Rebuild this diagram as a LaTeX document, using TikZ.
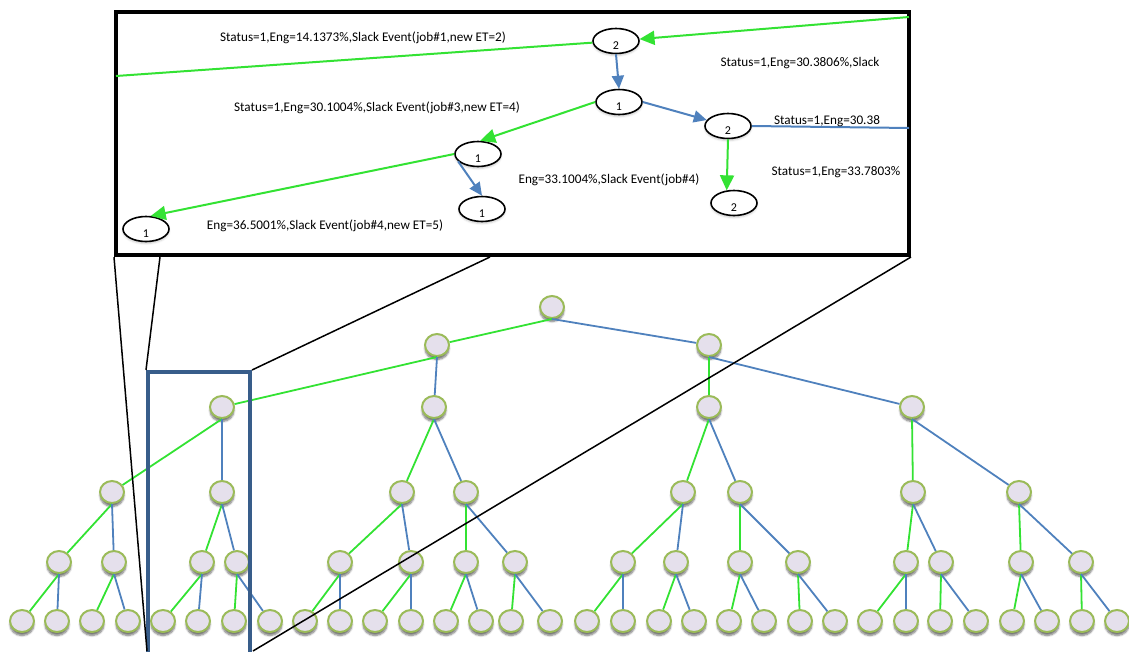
\documentclass[tikz,border=0pt]{standalone}
\usepackage{fontspec}
\setmainfont{Carlito}
\usetikzlibrary{positioning, arrows.meta, shapes.geometric, shadows.blur}
\usepackage{xcolor}
\definecolor{edgegreen}{RGB}{51,226,51}
\definecolor{edgeblue}{RGB}{79,129,189}
\definecolor{nodefill}{RGB}{229,224,236}
\definecolor{nodeline}{RGB}{155,187,89}
\definecolor{framecolor}{RGB}{56,93,138}

\begin{document}
\begin{tikzpicture}[x=1pt, y=-1pt]
  \tikzset{
    treenode/.style={
      ellipse,
      draw=nodeline,
      line width=2pt,
      fill=nodefill,
      minimum width=24pt,
      minimum height=22pt,
      inner sep=0pt,
      blur shadow={shadow xshift=0pt, shadow yshift=-3.5pt, shadow blur steps=6, shadow opacity=55}
    },
    leftedge/.style={
      draw=edgegreen,
      line width=1.8pt
    },
    rightedge/.style={
      draw=edgeblue,
      line width=1.8pt
    },
    statenode/.style={
      ellipse,
      draw,
      line width=1.6pt,
      fill=white,
      minimum width=46pt,
      minimum height=25pt,
      inner sep=0pt,
      text height=16pt,
      text depth=0pt,
      font=\fontsize{12}{12}\selectfont,
      blur shadow={shadow xshift=0pt, shadow yshift=-2pt, shadow blur steps=4, shadow opacity=20}
    },
    greenarrow/.style={
      draw=edgegreen,
      line width=2pt,
      -{Triangle[length=15pt, width=14pt]}
    },
    bluearrow/.style={
      draw=edgeblue,
      line width=2pt,
      -{Triangle[length=13pt, width=12pt]}
    },
    eventlabel/.style={
      font=\fontsize{13.2}{15}\selectfont,
      inner sep=0pt
    },
    insetbox/.style={
      draw,
      line width=4pt,
      minimum width=793pt,
      minimum height=243pt,
      inner sep=0pt
    },
    zoombox/.style={
      draw=framecolor,
      line width=4pt,
      minimum width=102pt,
      minimum height=290pt,
      inner sep=0pt
    },
    zoomline/.style={
      draw,
      line width=1.5pt
    }
  }
  \useasboundingbox (0,0) rectangle (1129,651);

  % Enlarged part of the search tree
  \node[insetbox] at (512.5, 133.5) (inset) {};

  \node[statenode] at (616, 41) (s2a) {2};
  \node[statenode] at (619, 102) (s1a) {1};
  \node[statenode] at (728, 126) (s2b) {2};
  \node[statenode] at (734, 203) (s2c) {2};
  \node[statenode] at (478, 154) (s1b) {1};
  \node[statenode] at (482, 209) (s1c) {1};
  \node[statenode] at (146, 229) (s1d) {1};

  \coordinate (inleft) at (116, 76);
  \coordinate (inright) at (909, 17);
  \coordinate (outright) at (909, 128);

  \draw[leftedge, line width=2pt] (inleft) -- (s2a);
  \draw[greenarrow] (inright) -- (s2a);
  \draw[bluearrow] (s2a.south) -- (s1a.north);
  \draw[bluearrow] (s1a.east) -- (s2b);
  \draw[rightedge, line width=2pt] (s2b.east) -- (outright);
  \draw[greenarrow] (s2b.south) -- (s2c.120);
  \draw[greenarrow] (s1a.west) -- (s1b.80);
  \draw[bluearrow] (s1b.200) -- (s1c.north);
  \draw[greenarrow] (s1b.west) -- (s1d.70);

  % Add event labels
  \node[eventlabel] at (363, 38) (ev1) {Status=1,Eng=14.1373\%,Slack Event(job\#1,new ET=2)};
  \node[eventlabel] at (800, 63) (ev2) {Status=1,Eng=30.3806\%,Slack};
  \node[eventlabel] at (377, 108) (ev3) {Status=1,Eng=30.1004\%,Slack Event(job\#3,new ET=4)};
  \node[eventlabel] at (827, 121) (ev4) {Status=1,Eng=30.38};
  \node[eventlabel] at (836, 172) (ev5) {Status=1,Eng=33.7803\%};
  \node[eventlabel] at (609, 180) (ev6) {Eng=33.1004\%,Slack Event(job\#4)};
  \node[eventlabel] at (325, 226) (ev7) {Eng=36.5001\%,Slack Event(job\#4,new ET=5)};

  % Draw the tree nodes
  \node[treenode] at (552, 307) (t1) {};

  \node[treenode] at (437, 345) (t2) {};
  \node[treenode] at (709, 345) (t3) {};

  \node[treenode] at (222, 407) (t4) {};
  \node[treenode] at (434, 407) (t5) {};
  \node[treenode] at (709, 407) (t6) {};
  \node[treenode] at (912, 407) (t7) {};

  \node[treenode] at (112, 492) (t8) {};
  \node[treenode] at (222, 492) (t9) {};
  \node[treenode] at (402, 492) (t10) {};
  \node[treenode] at (466, 492) (t11) {};
  \node[treenode] at (683, 492) (t12) {};
  \node[treenode] at (740, 492) (t13) {};
  \node[treenode] at (913, 492) (t14) {};
  \node[treenode] at (1019, 492) (t15) {};

  \node[treenode] at (59, 562) (t16) {};
  \node[treenode] at (114, 562) (t17) {};
  \node[treenode] at (202, 562) (t18) {};
  \node[treenode] at (237, 562) (t19) {};
  \node[treenode] at (340, 562) (t20) {};
  \node[treenode] at (411, 562) (t21) {};
  \node[treenode] at (466, 562) (t22) {};
  \node[treenode] at (515, 562) (t23) {};
  \node[treenode] at (623, 562) (t24) {};
  \node[treenode] at (676, 562) (t25) {};
  \node[treenode] at (740, 562) (t26) {};
  \node[treenode] at (798, 562) (t27) {};
  \node[treenode] at (906, 562) (t28) {};
  \node[treenode] at (941, 562) (t29) {};
  \node[treenode] at (1021, 562) (t30) {};
  \node[treenode] at (1081, 562) (t31) {};

  \node[treenode] at (22, 621) (t32) {};
  \node[treenode] at (57, 621) (t33) {};
  \node[treenode] at (92, 621) (t34) {};
  \node[treenode] at (128, 621) (t35) {};
  \node[treenode] at (163, 621) (t36) {};
  \node[treenode] at (198, 621) (t37) {};
  \node[treenode] at (234, 621) (t38) {};
  \node[treenode] at (270, 621) (t39) {};
  \node[treenode] at (305, 621) (t40) {};
  \node[treenode] at (340, 621) (t41) {};
  \node[treenode] at (375, 621) (t42) {};
  \node[treenode] at (411, 621) (t43) {};
  \node[treenode] at (446, 621) (t44) {};
  \node[treenode] at (481, 621) (t45) {};
  \node[treenode] at (511, 621) (t46) {};
  \node[treenode] at (550, 621) (t47) {};
  \node[treenode] at (587, 621) (t48) {};
  \node[treenode] at (623, 621) (t49) {};
  \node[treenode] at (659, 621) (t50) {};
  \node[treenode] at (694, 621) (t51) {};
  \node[treenode] at (729, 621) (t52) {};
  \node[treenode] at (764, 621) (t53) {};
  \node[treenode] at (800, 621) (t54) {};
  \node[treenode] at (835, 621) (t55) {};
  \node[treenode] at (870, 621) (t56) {};
  \node[treenode] at (906, 621) (t57) {};
  \node[treenode] at (940, 621) (t58) {};
  \node[treenode] at (976, 621) (t59) {};
  \node[treenode] at (1012, 621) (t60) {};
  \node[treenode] at (1047, 621) (t61) {};
  \node[treenode] at (1082, 621) (t62) {};
  \node[treenode] at (1117, 621) (t63) {};

  % Left child in green, right child in blue
  \draw[leftedge] (t1.south) -- (t2);   \draw[rightedge] (t1.south) -- (t3);
  \draw[leftedge] (t2.south) -- (t4);   \draw[rightedge] (t2.south) -- (t5);
  \draw[leftedge] (t3.south) -- (t6);   \draw[rightedge] (t3.south) -- (t7);
  \draw[leftedge] (t4.south) -- (t8);   \draw[rightedge] (t4.south) -- (t9);
  \draw[leftedge] (t5.south) -- (t10);  \draw[rightedge] (t5.south) -- (t11);
  \draw[leftedge] (t6.south) -- (t12);  \draw[rightedge] (t6.south) -- (t13);
  \draw[leftedge] (t7.south) -- (t14);  \draw[rightedge] (t7.south) -- (t15);
  \draw[leftedge] (t8.south) -- (t16);  \draw[rightedge] (t8.south) -- (t17);
  \draw[leftedge] (t9.south) -- (t18);  \draw[rightedge] (t9.south) -- (t19);
  \draw[leftedge] (t10.south) -- (t20); \draw[rightedge] (t10.south) -- (t21);
  \draw[leftedge] (t11.south) -- (t22); \draw[rightedge] (t11.south) -- (t23);
  \draw[leftedge] (t12.south) -- (t24); \draw[rightedge] (t12.south) -- (t25);
  \draw[leftedge] (t13.south) -- (t26); \draw[rightedge] (t13.south) -- (t27);
  \draw[leftedge] (t14.south) -- (t28); \draw[rightedge] (t14.south) -- (t29);
  \draw[leftedge] (t15.south) -- (t30); \draw[rightedge] (t15.south) -- (t31);
  \draw[leftedge] (t16.south) -- (t32); \draw[rightedge] (t16.south) -- (t33);
  \draw[leftedge] (t17.south) -- (t34); \draw[rightedge] (t17.south) -- (t35);
  \draw[leftedge] (t18.south) -- (t36); \draw[rightedge] (t18.south) -- (t37);
  \draw[leftedge] (t19.south) -- (t38); \draw[rightedge] (t19.south) -- (t39);
  \draw[leftedge] (t20.south) -- (t40); \draw[rightedge] (t20.south) -- (t41);
  \draw[leftedge] (t21.south) -- (t42); \draw[rightedge] (t21.south) -- (t43);
  \draw[leftedge] (t22.south) -- (t44); \draw[rightedge] (t22.south) -- (t45);
  \draw[leftedge] (t23.south) -- (t46); \draw[rightedge] (t23.south) -- (t47);
  \draw[leftedge] (t24.south) -- (t48); \draw[rightedge] (t24.south) -- (t49);
  \draw[leftedge] (t25.south) -- (t50); \draw[rightedge] (t25.south) -- (t51);
  \draw[leftedge] (t26.south) -- (t52); \draw[rightedge] (t26.south) -- (t53);
  \draw[leftedge] (t27.south) -- (t54); \draw[rightedge] (t27.south) -- (t55);
  \draw[leftedge] (t28.south) -- (t56); \draw[rightedge] (t28.south) -- (t57);
  \draw[leftedge] (t29.south) -- (t58); \draw[rightedge] (t29.south) -- (t59);
  \draw[leftedge] (t30.south) -- (t60); \draw[rightedge] (t30.south) -- (t61);
  \draw[leftedge] (t31.south) -- (t62); \draw[rightedge] (t31.south) -- (t63);

  % Zoomed region and its guide lines
  \node[zoombox] at (199, 517) (zoom) {};

  \coordinate (guide1) at (160, 257);
  \coordinate (guide2) at (490, 257);
  \coordinate (bottomleft) at (147, 651);
  \coordinate (bottomright) at (253, 651);

  \draw[zoomline] (inset.south west) -- (bottomleft);
  \draw[zoomline] (guide1) -- (zoom.north west);
  \draw[zoomline] (guide2) -- (zoom.north east);
  \draw[zoomline] (inset.south east) -- (bottomright);

\end{tikzpicture}
\end{document}
